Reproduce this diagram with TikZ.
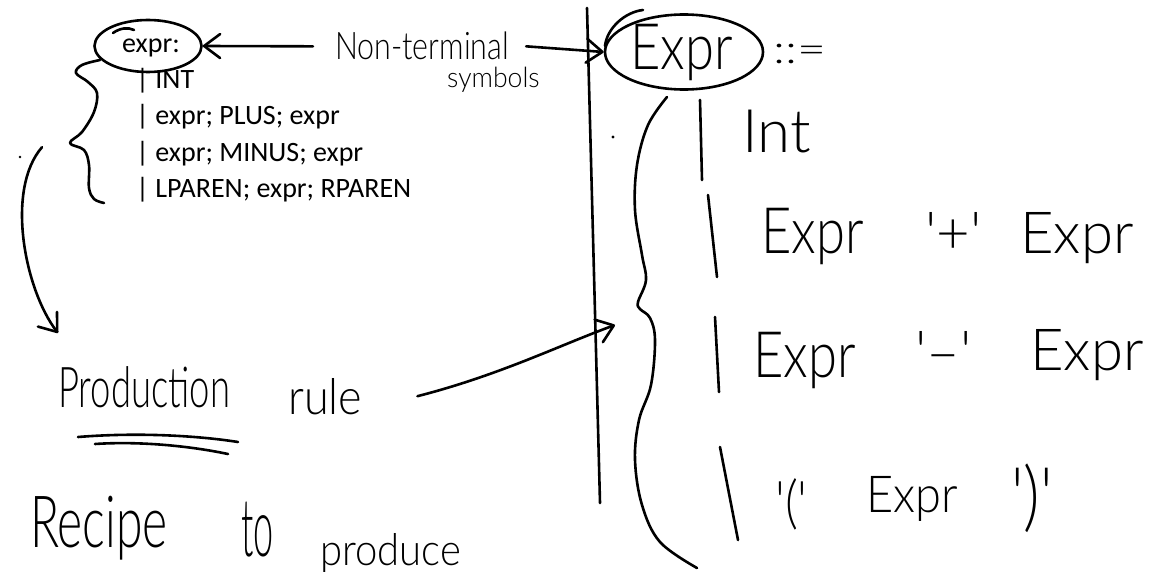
\documentclass[tikz,border=0pt]{standalone}
\usepackage{fontspec}
\usepackage{graphicx}
\setmainfont{Carlito}
\IfFontExistsTF{Lato Light}{\newfontfamily\hand{Lato Light}}{\newfontfamily\hand{Lato}}
\usetikzlibrary{arrows.meta,shapes.geometric}
\begin{document}
\begin{tikzpicture}[x=1pt,y=-1pt,
  typed/.style={font=\fontsize{28}{34}\selectfont, inner sep=0pt, anchor=base west},
  hw/.style={font=\hand\fontsize{#1}{#1}\selectfont, inner sep=0pt, anchor=base west},
  pen/.style={line width=2.6pt, line cap=round, line join=round},
  barb/.style={-{Straight Barb[length=16pt,width=24pt,line width=2.6pt,round]}},
  loop/.style={ellipse, draw, pen, inner sep=0pt},
]
\useasboundingbox (0,0) rectangle (1155,572);
\fill[white] (0,0) rectangle (1155,572);

% ---------- typed grammar (left) ----------
\node[typed] (l0) at (122,53) {expr:};
\node[typed] (l1) at (136,89) {| INT};
\node[typed] (l2) at (136,125) {| expr; PLUS; expr};
\node[typed] (l3) at (136,161) {| expr; MINUS; expr};
\node[typed] (l4) at (136,197) {| LPAREN; expr; RPAREN};

\node[loop, minimum width=107pt, minimum height=52pt] (e1) at (148,46) {};
\draw[pen] (113,33) .. controls (120,28) and (128,27) .. (134,30);

% small brace
\draw[pen] plot[smooth, tension=0.6] coordinates {(100,60) (82,65) (76,73) (88,82) (97,93) (94,112) (82,132) (70,143) (84,150) (89,165) (89,188) (94,199) (104,203)};

% ---------- non-terminal label ----------
\node[hw=38] (nt) at (335,60) {\scalebox{0.8}[1]{Non-terminal}};
\node[hw=28] (sym) at (447,88) {\scalebox{0.95}[1]{symbols}};

% ---------- right grammar ----------
\node[loop, minimum width=158pt, minimum height=75pt] (e2) at (684,52) {};
\draw[pen] (643,10) .. controls (625,12) and (607,28) .. (605,46);
\node[hw=64] (x0) at (630,70) {\scalebox{0.82}[1]{Expr}};
\node[hw=40] (def) at (773,64) {\scalebox{1.25}[1]{::=}};

\draw[pen,barb] ([xshift=-22pt]nt.west) -- (e1.east);
\draw[pen,barb] ([xshift=17pt]nt.east) -- (e2.west);

% divider
\coordinate (dtop) at (587,8);
\coordinate (dbot) at (600,503);
\draw[pen] (dtop) -- (dbot);
\fill (613,137) circle (1.6pt);

% big brace
\draw[pen] plot[smooth, tension=0.6] coordinates {(667,97) (648,125) (637,165) (635,210) (642,255) (646,280) (638,302) (640,309) (650,318) (655,340) (651,385) (639,420) (635,460) (642,505) (660,542) (697,568)};

% alternatives
\draw[pen] (700,100) -- (702,180);
\node[hw=60] (int) at (742,153) {Int};

\draw[pen] (708,195) -- (717,277);
\node[hw=64] (r2a) at (761,253) {\scalebox{0.82}[1]{Expr}};
\node[hw=58] (r2b) at (925,253) {'+'};
\node[hw=58] (r2c) at (1020,253) {Expr};

\draw[pen] (715,317) -- (719,392);
\node[hw=64] (r3a) at (753,377) {\scalebox{0.82}[1]{Expr}};
\node[hw=58] (r3b) at (915,372) {'–'};
\node[hw=58] (r3c) at (1030,370) {Expr};

\draw[pen] (720,447) -- (738,540);
\node[hw=50] (r4a) at (775,522) {\scalebox{1}[1.15]{'('}};
\node[hw=51] (r4b) at (866,512) {\scalebox{0.92}[1]{Expr}};
\node[hw=64] (r4c) at (1011,522) {\scalebox{1}[1.2]{')'}};

% ---------- production rule ----------
\fill (20,157) circle (1.3pt);
\coordinate (pdown) at (58,333);
\draw[pen,barb] (l3.west) ++(-94,-6) .. controls (5,190) and (25,290) .. (pdown);

\node[hw=45] (prod) at (58,407) {\scalebox{0.81}[1.25]{Production}};
\node[hw=45] (rule) at (288,414) {\scalebox{1}[1.1]{rule}};
\draw[pen] (78,437) .. controls (140,432) and (200,436) .. (238,442);
\draw[pen] (95,444) .. controls (140,441) and (190,446) .. (228,454);

\coordinate (brmid) at (615,325);
\draw[pen,barb] ([xshift=55pt]rule.east) .. controls (500,375) and (560,345) .. (brmid);

\node[hw=60] (rec) at (30,547) {\scalebox{0.8}[1.2]{Recipe}};
\node[hw=60] (to) at (241,556) {\scalebox{0.6}[1.35]{to}};
\node[hw=40] (pro) at (320,565) {\scalebox{1}[1.1]{produce}};
\end{tikzpicture}
\end{document}
